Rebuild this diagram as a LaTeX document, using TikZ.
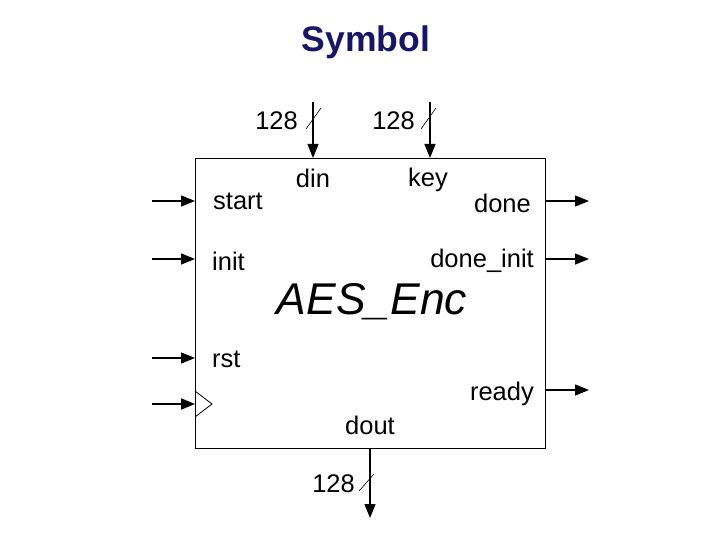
\documentclass[tikz,border=0pt]{standalone}
\usepackage{fontspec}
\setmainfont{Liberation Sans}
\usetikzlibrary{arrows.meta}
\definecolor{titleblue}{RGB}{22,22,105}
\begin{document}
\begin{tikzpicture}[x=1pt,y=-1pt,
  sig/.style={line width=1.3pt,-{Triangle[length=14pt,width=11pt]}},
  lbl/.style={font=\fontsize{25.5}{28}\selectfont,inner sep=0pt},
  slash/.style={line width=0.6pt}]
\useasboundingbox (0,0) rectangle (720,540);
\node[font=\fontsize{35.5}{38}\selectfont\bfseries,text=titleblue,anchor=base,inner sep=0pt] (title) at (366,52) {Symbol};
\node[draw,line width=0.8pt,minimum width=350pt,minimum height=290pt,anchor=north west,inner sep=0pt] (box) at (195,158) {};
% left inputs
\coordinate (s0) at (152,201); \coordinate (s1) at (195,201);
\coordinate (i0) at (152,259); \coordinate (i1) at (195,259);
\coordinate (r0) at (152,358); \coordinate (r1) at (195,358);
\coordinate (c0) at (152,404); \coordinate (c1) at (195,404);
\draw[sig] (s0) -- (s1);
\draw[sig] (i0) -- (i1);
\draw[sig] (r0) -- (r1);
\draw[sig,line width=2pt] (c0) -- (c1);
\coordinate (ca) at (195,391); \coordinate (cb) at (212,404); \coordinate (cc) at (195,417);
\draw[line width=0.8pt] (ca) -- (cb) -- (cc);
% right outputs
\coordinate (d0) at (545,201); \coordinate (d1) at (589,201);
\coordinate (di0) at (545,259); \coordinate (di1) at (589,259);
\coordinate (rd0) at (545,390); \coordinate (rd1) at (589,390);
\draw[sig] (d0) -- (d1);
\draw[sig] (di0) -- (di1);
\draw[sig] (rd0) -- (rd1);
% top inputs
\coordinate (din0) at (313,102); \coordinate (din1) at (313,158);
\coordinate (key0) at (430,102); \coordinate (key1) at (430,158);
\draw[sig] (din0) -- (din1);
\draw[sig] (key0) -- (key1);
\coordinate (sa0) at (306,129); \coordinate (sa1) at (321,108);
\coordinate (sb0) at (421,129); \coordinate (sb1) at (436,108);
\draw[slash] (sa0) -- (sa1);
\draw[slash] (sb0) -- (sb1);
\node[lbl,anchor=base east] (w1) at (298,130) {128};
\node[lbl,anchor=base east] (w2) at (415,130) {128};
% bottom output
\coordinate (do0) at (370,448); \coordinate (do1) at (370,518);
\draw[sig] (do0) -- (do1);
\coordinate (sc0) at (359,491); \coordinate (sc1) at (374,474);
\draw[slash] (sc0) -- (sc1);
\node[lbl,anchor=base east] (w3) at (355,492) {128};
% labels
\node[lbl,anchor=base west] (lstart) at (213,210) {start};
\node[lbl,anchor=base west] (linit) at (212,270) {init};
\node[lbl,anchor=base west] (lrst) at (212,367) {rst};
\node[lbl,anchor=base] (ldin) at (313,188) {din};
\node[lbl,anchor=base] (lkey) at (428,187) {key};
\node[lbl,anchor=base east] (ldone) at (531,213) {done};
\node[lbl,anchor=base east] (ldoneinit) at (534,267) {done\_init};
\node[lbl,anchor=base east] (lready) at (534,400) {ready};
\node[lbl,anchor=base] (ldout) at (370,434) {dout};
\node[font=\fontsize{44.5}{48}\selectfont\itshape,inner sep=0pt] (name) at (372,302) {AES\_Enc};
\end{tikzpicture}
\end{document}
